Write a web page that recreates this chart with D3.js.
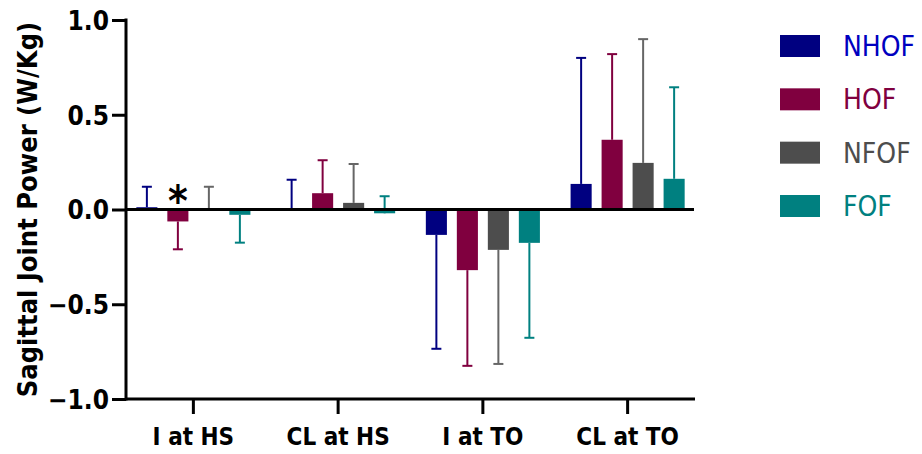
<!DOCTYPE html>
<html>
<head>
<meta charset="utf-8">
<script src="https://cdn.jsdelivr.net/npm/d3@7"></script>
<style>
  body { margin: 0; background: #fff; }
  svg { display: block; }
  .bold { font-family: "DejaVu Sans Condensed", "Liberation Sans Narrow", sans-serif; font-weight: bold; }
</style>
</head>
<body>
<div id="chart"></div>
<script>
// data
const categories = ["I at HS", "CL at HS", "I at TO", "CL at TO"];
const series = ["NHOF", "HOF", "NFOF", "FOF"];
const colors = ["#000080", "#80003f", "#4d4d4d", "#008080"];
const legendColors = ["#0000c0", "#80003f", "#4d4d4d", "#008080"];
// mean per series, one value per category
const meanNHOF = [0.012, 0.0, -0.134, 0.135];
const meanHOF = [-0.063, 0.086, -0.32, 0.368];
const meanNFOF = [0.0, 0.035, -0.213, 0.246];
const meanFOF = [-0.028, -0.02, -0.176, 0.162];
// error bar end value
const errNHOF = [0.12, 0.157, -0.735, 0.80];
const errHOF = [-0.21, 0.26, -0.825, 0.82];
const errNFOF = [0.12, 0.24, -0.815, 0.899];
const errFOF = [-0.175, 0.07, -0.677, 0.645];
const yTicks = [-1.0, -0.5, 0.0, 0.5, 1.0];

const means = [meanNHOF, meanHOF, meanNFOF, meanFOF];
const errs = [errNHOF, errHOF, errNFOF, errFOF];

const width = 922, height = 454;
const svg = d3.select("#chart").append("svg")
    .attr("width", width)
    .attr("height", height);

let y = d3.scaleLinear().domain([-1, 1]).range([399, 20]);
let x = d3.scaleBand().domain(categories).range([121, 700]);
let xs = d3.scaleBand().domain(series).range([-62, 62]).paddingInner(0.32).paddingOuter(0.16);

const axisLeft = 126, axisRight = 695;

// bars + error bars
let rows = [];
categories.forEach((c, ci) => {
    series.forEach((s, si) => {
        rows.push({ cat: c, ser: s, si: si, mean: means[si][ci], err: errs[si][ci] });
    });
});

let cx = d => x(d.cat) + x.bandwidth() / 2 + xs(d.ser) + xs.bandwidth() / 2;

let g = svg.append("g");
g.selectAll("line.err")
    .data(rows)
    .join("line")
    .attr("class", "err")
    .attr("x1", cx)
    .attr("x2", cx)
    .attr("y1", d => y(d.mean))
    .attr("y2", d => y(d.err))
    .attr("stroke", d => d.si == 2 ? "#666" : colors[d.si])
    .attr("stroke-width", 2);

g.selectAll("line.cap")
    .data(rows)
    .join("line")
    .attr("class", "cap")
    .attr("x1", d => cx(d) - 5)
    .attr("x2", d => cx(d) + 5)
    .attr("y1", d => y(d.err))
    .attr("y2", d => y(d.err))
    .attr("stroke", d => d.si == 2 ? "#666" : colors[d.si])
    .attr("stroke-width", 2);

g.selectAll("rect")
    .data(rows)
    .join("rect")
    .attr("x", d => x(d.cat) + x.bandwidth() / 2 + xs(d.ser))
    .attr("width", xs.bandwidth())
    .attr("y", d => Math.min(y(d.mean), y(0)))
    .attr("height", d => Math.abs(y(d.mean) - y(0)))
    .attr("fill", d => colors[d.si]);

// zero line
svg.append("line")
    .attr("x1", axisLeft).attr("x2", axisRight - 1)
    .attr("y1", y(0)).attr("y2", y(0))
    .attr("stroke", "#000").attr("stroke-width", 3);

// asterisk
svg.append("text")
    .attr("class", "bold")
    .attr("x", cx({ cat: "I at HS", ser: "HOF" }))
    .attr("y", y(0) + 6)
    .attr("text-anchor", "middle")
    .attr("font-size", 42)
    .text("*");

// y axis
let yAxis = svg.append("g")
    .attr("transform", `translate(${axisLeft},0)`)
    .call(d3.axisLeft(y).tickValues(yTicks).tickSize(14).tickPadding(3));
yAxis.select(".domain").remove();
yAxis.selectAll(".tick line").attr("stroke-width", 3);
yAxis.selectAll(".tick text")
    .attr("class", "bold")
    .attr("font-size", 26)
    .attr("fill", "#000")
    .attr("dy", "0.36em")
    .text(d => d3.format(".1f")(d));
svg.append("line")
    .attr("x1", axisLeft).attr("x2", axisLeft)
    .attr("y1", y(1) - 1.5).attr("y2", y(-1) + 1.5)
    .attr("stroke", "#000").attr("stroke-width", 3);

// x axis
let xAxis = svg.append("g")
    .attr("transform", `translate(0,${y(-1)})`)
    .call(d3.axisBottom(x).tickSize(15).tickPadding(14));
xAxis.select(".domain").remove();
xAxis.selectAll(".tick line").attr("stroke-width", 3);
xAxis.selectAll(".tick text")
    .attr("class", "bold")
    .attr("font-size", 24)
    .attr("fill", "#000");
svg.append("line")
    .attr("x1", axisLeft).attr("x2", axisRight)
    .attr("y1", y(-1)).attr("y2", y(-1))
    .attr("stroke", "#000").attr("stroke-width", 3);

// y title
svg.append("text")
    .attr("class", "bold")
    .attr("transform", `translate(37,${(y(1) + y(-1)) / 2}) rotate(-90)`)
    .attr("text-anchor", "middle")
    .attr("font-size", 27)
    .text("Sagittal Joint Power (W/Kg)");

// legend
let legend = svg.append("g").attr("transform", "translate(780,0)");
let ly = d3.scalePoint().domain(series).range([46, 206]);
legend.selectAll("rect")
    .data(series)
    .join("rect")
    .attr("x", 0)
    .attr("y", d => ly(d) - 11)
    .attr("width", 40)
    .attr("height", 22)
    .attr("fill", (d, i) => colors[i]);
legend.selectAll("text")
    .data(series)
    .join("text")
    .attr("x", 63)
    .attr("y", d => ly(d))
    .attr("dy", "0.36em")
    .attr("font-family", "'DejaVu Sans Condensed', sans-serif")
    .attr("font-size", 28)
    .attr("fill", (d, i) => legendColors[i])
    .text(d => d);
</script>
</body>
</html>
